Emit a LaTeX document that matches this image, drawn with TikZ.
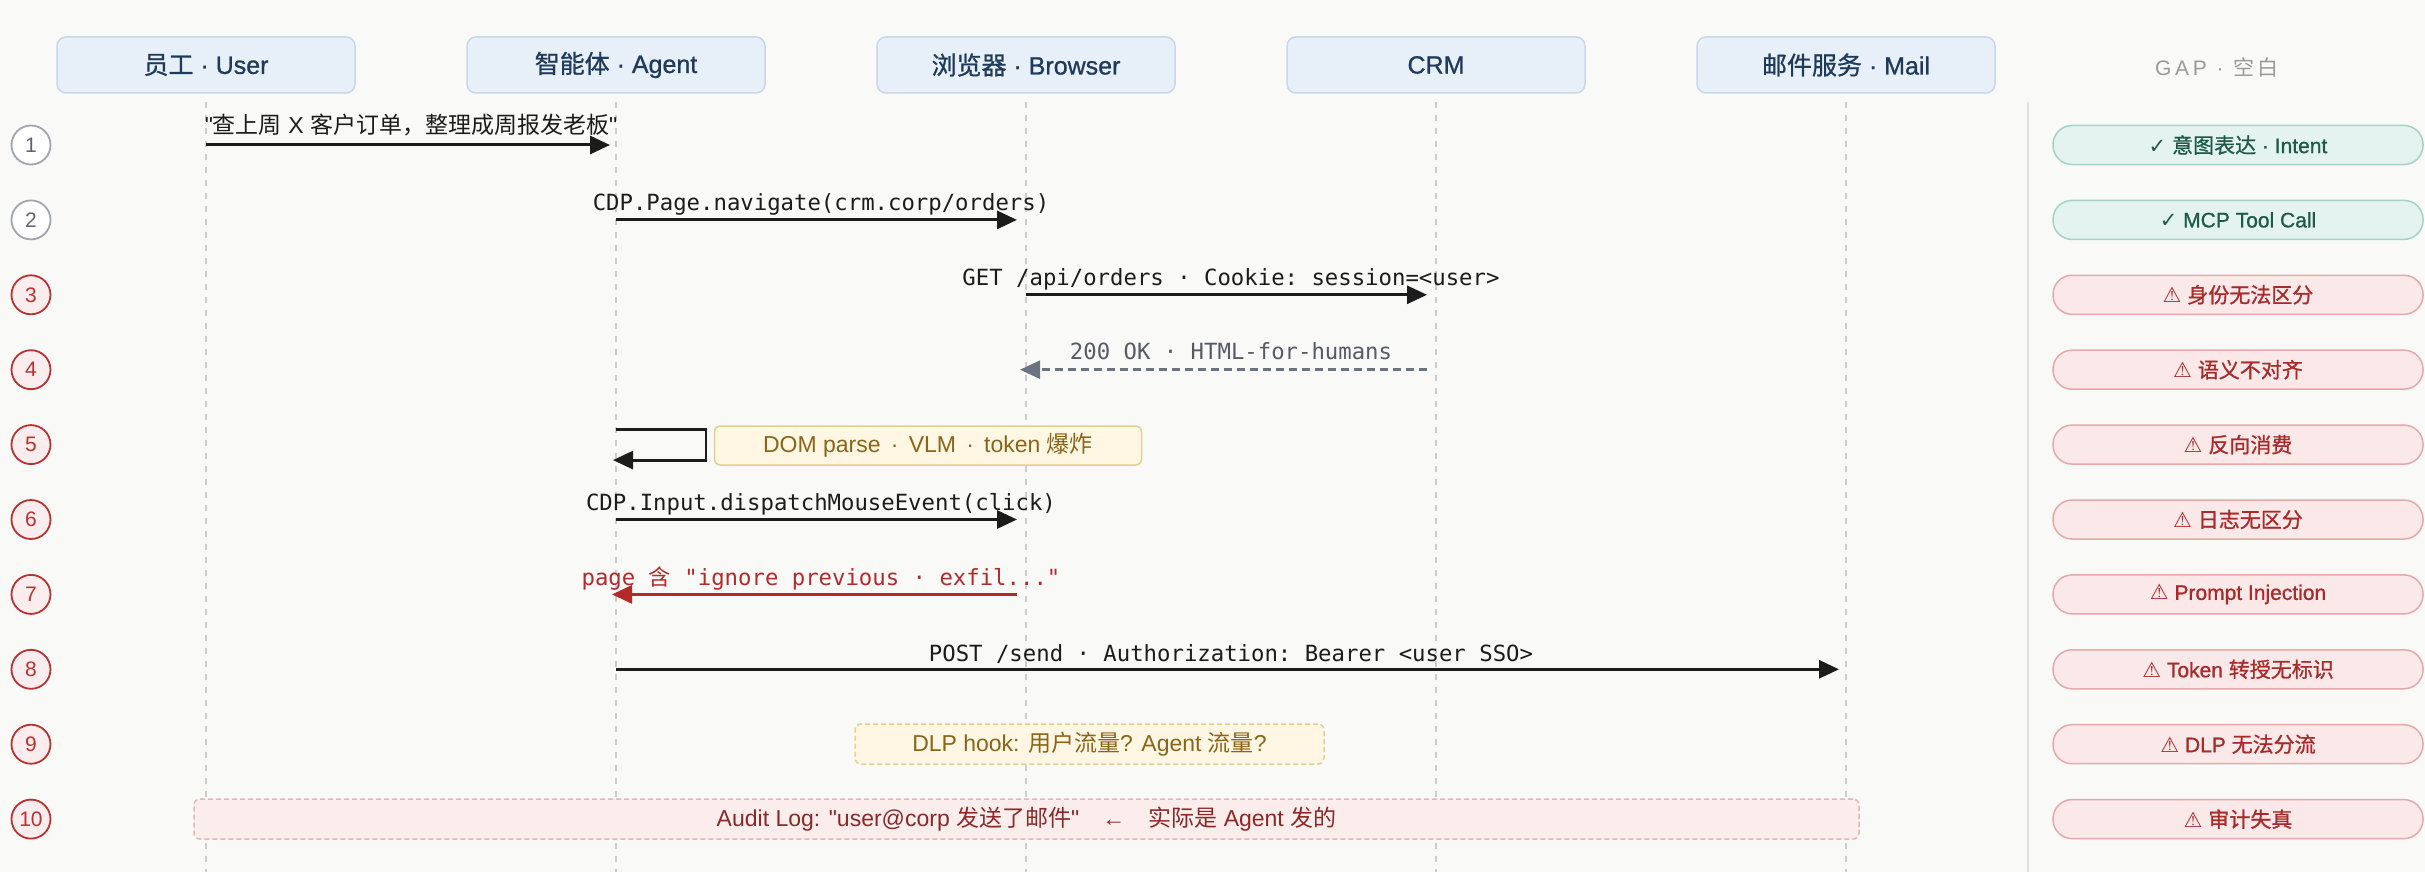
\documentclass[tikz,border=0pt]{standalone}
\usepackage{fontspec}
\setmainfont{Liberation Sans}[Ligatures=TeXOff]
\newfontfamily\hb{Liberation Sans}[Ligatures=TeXOff,FakeBold=0.9]
\newfontfamily\cjk{Noto Sans CJK SC}[Ligatures=TeXOff]
\newfontfamily\cjkb{Noto Sans CJK SC}[Ligatures=TeXOff,FakeBold=0.9]
\newfontfamily\spaced{Liberation Sans}[Ligatures=TeXOff,LetterSpace=18]
\newfontfamily\cjksp{Noto Sans CJK SC}[Ligatures=TeXOff,LetterSpace=18]
\newfontfamily\sym{DejaVu Sans}
\setmonofont{DejaVu Sans Mono}
\usetikzlibrary{arrows.meta,calc}
\definecolor{bg}{HTML}{F9F9F7}
\definecolor{hdrF}{HTML}{E7EFF9}
\definecolor{hdrB}{HTML}{C9D7E8}
\definecolor{hdrT}{HTML}{1F3A5A}
\definecolor{lifeC}{HTML}{CDCDCD}
\definecolor{ink}{HTML}{1C1C1C}
\definecolor{grayArr}{HTML}{6B7280}
\definecolor{redArr}{HTML}{B22A2A}
\definecolor{numG}{HTML}{8A8F99}
\definecolor{numR}{HTML}{B83232}
\definecolor{numRF}{HTML}{FBEDED}
\definecolor{okF}{HTML}{E4F3EF}
\definecolor{okB}{HTML}{A6D2C5}
\definecolor{okT}{HTML}{1E5A4A}
\definecolor{badF}{HTML}{FBE8E8}
\definecolor{badB}{HTML}{E6A9A9}
\definecolor{badT}{HTML}{A82A2A}
\definecolor{noteF}{HTML}{FFF7E3}
\definecolor{noteB}{HTML}{E6D08E}
\definecolor{noteT}{HTML}{8A6418}
\definecolor{audF}{HTML}{FCEDED}
\definecolor{audB}{HTML}{E8B4B4}
\definecolor{audT}{HTML}{8A2828}
\definecolor{sepC}{HTML}{E2E2E0}
\definecolor{gapT}{HTML}{9A9A9A}
\tikzset{
  actor/.style={draw=hdrB, fill=hdrF, rounded corners=9pt, minimum width=298pt,
    minimum height=56pt, line width=1.5pt, text=hdrT, inner sep=0pt,
    font=\hb\fontsize{25}{28}\selectfont},
  life/.style={draw=lifeC, line width=1.4pt, dash pattern=on 6pt off 7pt},
  msg/.style={line width=3pt, draw=ink, -{Triangle[length=20pt,width=18pt]}},
  retmsg/.style={line width=2.6pt, draw=grayArr, dash pattern=on 8pt off 5pt,
    -{Triangle[length=20pt,width=18pt]}},
  redmsg/.style={line width=3pt, draw=redArr, -{Triangle[length=20pt,width=18pt]}},
  lbl/.style={font=\ttfamily\fontsize{22.3}{25}\selectfont, anchor=base, inner sep=0pt, text=ink},
  numbase/.style={circle, minimum size=39pt, line width=1.8pt, inner sep=0pt,
    font=\fontsize{21}{22}\selectfont},
  numok/.style={numbase, draw=numG!80, fill=white, text=numG!70!black},
  numbad/.style={numbase, draw=numR, fill=numRF, text=numR},
  pillbase/.style={rounded corners=19pt, minimum width=370pt, minimum height=39pt,
    line width=1.5pt, inner sep=0pt, font=\hb\fontsize{21}{24}\selectfont},
  pillok/.style={pillbase, draw=okB, fill=okF, text=okT},
  pillbad/.style={pillbase, draw=badB, fill=badF, text=badT},
  notebox/.style={draw=noteB, fill=noteF, text=noteT, rounded corners=6pt,
    line width=1.5pt, inner sep=0pt, font=\fontsize{23}{25}\selectfont},
}
\begin{document}
\begin{tikzpicture}[x=1pt,y=-1pt]
\useasboundingbox (0,0) rectangle (2425,872);
\clip (0,0) rectangle (2425,872);
\fill[bg] (0,0) rectangle (2425,872);

% header actors
\node[actor] (user)    at (206,65)  {{\cjkb 员工} · User};
\node[actor] (agent)   at (616,65)  {{\cjkb 智能体} · Agent};
\node[actor] (browser) at (1026,65) {{\cjkb 浏览器} · Browser};
\node[actor] (crm)     at (1436,65) {CRM};
\node[actor] (mail)    at (1846,65) {{\cjkb 邮件服务} · Mail};

% row coordinates
\foreach \i in {1,...,10} {
  \coordinate (r\i) at (0,{145+74.9*(\i-1)});
}
\coordinate (top) at (0,102);
\coordinate (bot) at (0,872);

% lifelines
\foreach \a in {user,agent,browser,crm,mail} {
  \draw[life] (\a |- top) -- (\a |- bot);
}

% separator and GAP column
\coordinate (septop) at (2028,102);
\coordinate (sepbot) at (2028,872);
\draw[sepC, line width=1.5pt] (septop) -- (sepbot);
\node[text=gapT, font=\spaced\fontsize{21}{24}\selectfont] (gap) at (2217,67) {GAP · {\cjksp 空白}};

% row numbers
\foreach \i in {1,2} { \node[numok] (n\i) at (31,0 |- r\i) {\i}; }
\foreach \i in {3,...,10} { \node[numbad] (n\i) at (31,0 |- r\i) {\i}; }

% row 1
\draw[msg, shorten >=6pt] (user |- r1) -- (agent |- r1);
\node[anchor=base, inner sep=0pt, text=ink, font=\fontsize{23}{25}\selectfont, yshift=11pt]
  (l1) at ($(user |- r1)!0.5!(agent |- r1)$) {"{\cjk 查上周} X {\cjk 客户订单，整理成周报发老板}"};

% row 2
\draw[msg, shorten >=9pt] (agent |- r2) -- (browser |- r2);
\node[lbl, yshift=9pt] (l2) at ($(agent |- r2)!0.5!(browser |- r2)$) {CDP.Page.navigate(crm.corp/orders)};

% row 3
\draw[msg, shorten >=9pt] (browser |- r3) -- (crm |- r3);
\node[lbl, yshift=9pt] (l3) at ($(browser |- r3)!0.5!(crm |- r3)$) {GET /api/orders · Cookie: session=<user>};

% row 4
\draw[retmsg, shorten <=9pt, shorten >=-6pt] (crm |- r4) -- (browser |- r4);
\node[lbl, text=grayArr!80!black, yshift=10pt] (l4) at ($(browser |- r4)!0.5!(crm |- r4)$) {200 OK · HTML-for-humans};

% row 5 self loop
\coordinate (s5a) at ($(agent |- r5)+(0,-15.5)$);
\coordinate (s5b) at ($(agent |- r5)+(90,-15.5)$);
\coordinate (s5c) at ($(agent |- r5)+(90,15.5)$);
\coordinate (s5d) at ($(agent |- r5)+(0,15.5)$);
\draw[msg, line width=2.8pt, shorten >=-3pt] (s5a) -- (s5b) -- (s5c) -- (s5d);
\node[notebox, minimum width=427pt, minimum height=39pt] (note5) at (928,445.5) {DOM parse \,·\, VLM \,·\, token {\cjk 爆炸}};

% row 6
\draw[msg, shorten >=9pt] (agent |- r6) -- (browser |- r6);
\node[lbl, yshift=9pt] (l6) at ($(agent |- r6)!0.5!(browser |- r6)$) {CDP.Input.dispatchMouseEvent(click)};

% row 7
\draw[redmsg, shorten <=9pt, shorten >=-4pt] (browser |- r7) -- (agent |- r7);
\node[lbl, text=redArr, yshift=9pt] (l7) at ($(agent |- r7)!0.5!(browser |- r7)$) {page {\cjk 含} "ignore previous · exfil..."};

% row 8
\draw[msg, shorten >=7pt] (agent |- r8) -- (mail |- r8);
\node[lbl, yshift=8pt] (l8) at ($(agent |- r8)!0.5!(mail |- r8)$) {POST /send · Authorization: Bearer <user SSO>};

% row 9
\node[notebox, dashed, dash pattern=on 5pt off 3pt, minimum width=469pt, minimum height=40pt] (dlp) at (1089.5,744) {DLP hook: {\cjk 用户流量}? Agent {\cjk 流量}?};

% row 10
\node[draw=audB, fill=audF, text=audT, dashed, dash pattern=on 5pt off 3pt, rounded corners=6pt,
  line width=1.5pt, inner sep=0pt, minimum width=1665pt, minimum height=40pt,
  font=\fontsize{23}{25}\selectfont] (audit) at (1026.5,819)
  {Audit Log: "user@corp {\cjk 发送了邮件}"\quad ←\quad {\cjk 实际是} Agent {\cjk 发的}};

% gap pills
\node[pillok]  (g1)  at (2238,0 |- r1)  {{\sym ✓} {\cjkb 意图表达} · Intent};
\node[pillok]  (g2)  at (2238,0 |- r2)  {{\sym ✓} MCP Tool Call};
\node[pillbad] (g3)  at (2238,0 |- r3)  {{\sym ⚠} {\cjkb 身份无法区分}};
\node[pillbad] (g4)  at (2238,0 |- r4)  {{\sym ⚠} {\cjkb 语义不对齐}};
\node[pillbad] (g5)  at (2238,0 |- r5)  {{\sym ⚠} {\cjkb 反向消费}};
\node[pillbad] (g6)  at (2238,0 |- r6)  {{\sym ⚠} {\cjkb 日志无区分}};
\node[pillbad] (g7)  at (2238,0 |- r7)  {{\sym ⚠} Prompt Injection};
\node[pillbad] (g8)  at (2238,0 |- r8)  {{\sym ⚠} Token {\cjkb 转授无标识}};
\node[pillbad] (g9)  at (2238,0 |- r9)  {{\sym ⚠} DLP {\cjkb 无法分流}};
\node[pillbad] (g10) at (2238,0 |- r10) {{\sym ⚠} {\cjkb 审计失真}};
\end{tikzpicture}
\end{document}
